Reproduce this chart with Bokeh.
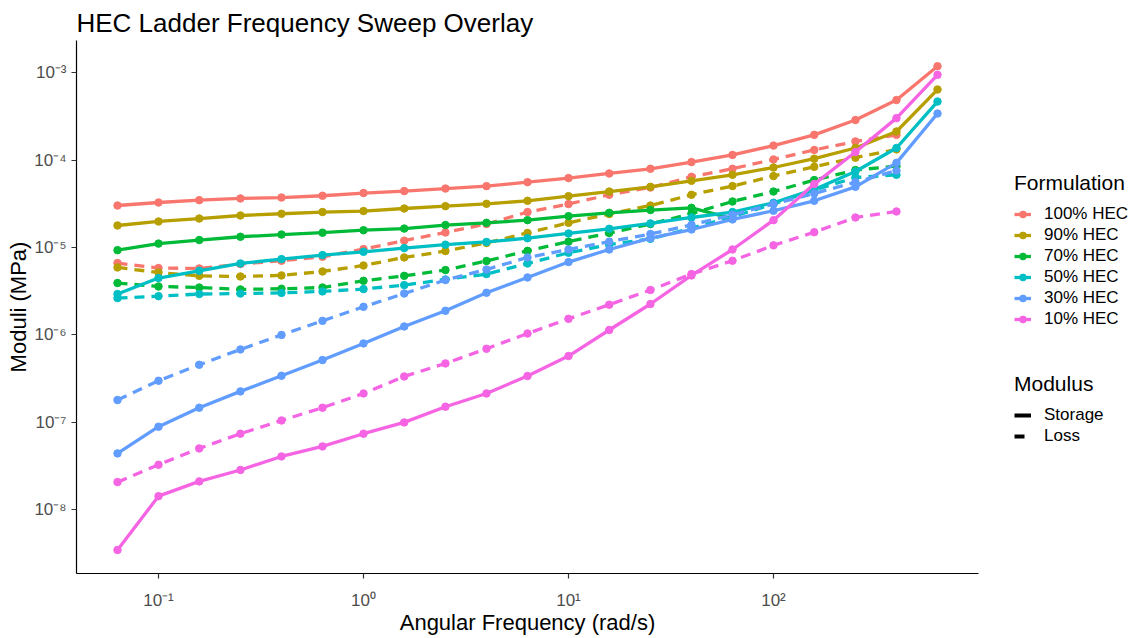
from bokeh.plotting import figure
from bokeh.layouts import row
from bokeh.models import Legend, LegendItem, FixedTicker
from bokeh.embed import file_html
from bokeh.resources import INLINE

# ---------------- data ----------------
freq = [0.0631, 0.1, 0.158, 0.251, 0.398, 0.631, 1.0, 1.58, 2.51, 3.98, 6.31,
        10.0, 15.8, 25.1, 39.8, 63.1, 100.0, 158.0, 251.0, 398.0, 631.0]

formulations = ["100% HEC", "90% HEC", "70% HEC", "50% HEC", "30% HEC", "10% HEC"]
colors = ["#F8766D", "#B79F00", "#00BA38", "#00BFC4", "#619CFF", "#F564E3"]

hec100_storage = [3.03e-5, 3.28e-5, 3.49e-5, 3.65e-5, 3.74e-5, 3.92e-5, 4.21e-5, 4.43e-5, 4.74e-5, 5.05e-5,
                  5.61e-5, 6.24e-5, 7.05e-5, 7.98e-5, 9.52e-5, 1.15e-4, 1.47e-4, 1.95e-4, 2.88e-4, 4.88e-4, 1.19e-3]
hec100_loss = [6.65e-6, 5.83e-6, 5.77e-6, 6.48e-6, 7.07e-6, 7.85e-6, 9.62e-6, 1.20e-5, 1.49e-5, 1.86e-5,
               2.55e-5, 3.15e-5, 4.02e-5, 4.87e-5, 6.46e-5, 7.98e-5, 1.02e-4, 1.31e-4, 1.64e-4, 1.95e-4]

hec90_storage = [1.79e-5, 1.99e-5, 2.15e-5, 2.33e-5, 2.44e-5, 2.55e-5, 2.62e-5, 2.80e-5, 2.98e-5, 3.17e-5,
                 3.43e-5, 3.88e-5, 4.38e-5, 4.96e-5, 5.81e-5, 6.81e-5, 8.25e-5, 1.04e-4, 1.38e-4, 2.13e-4, 6.44e-4]
hec90_loss = [5.92e-6, 5.19e-6, 4.75e-6, 4.67e-6, 4.80e-6, 5.33e-6, 6.24e-6, 7.71e-6, 9.12e-6, 1.13e-5,
              1.47e-5, 1.92e-5, 2.42e-5, 3.03e-5, 4.02e-5, 5.06e-5, 6.58e-5, 8.40e-5, 1.07e-4, 1.33e-4]

hec70_storage = [9.35e-6, 1.11e-5, 1.22e-5, 1.33e-5, 1.41e-5, 1.48e-5, 1.58e-5, 1.65e-5, 1.81e-5, 1.92e-5,
                 2.06e-5, 2.29e-5, 2.50e-5, 2.69e-5, 2.85e-5, 2.14e-5]
hec70_loss = [3.93e-6, 3.59e-6, 3.49e-6, 3.32e-6, 3.38e-6, 3.49e-6, 4.17e-6, 4.75e-6, 5.53e-6, 7.02e-6,
              9.18e-6, 1.17e-5, 1.47e-5, 1.86e-5, 2.45e-5, 3.37e-5, 4.38e-5, 5.92e-5, 7.71e-5, 8.57e-5]

hec50_storage = [2.94e-6, 4.48e-6, 5.43e-6, 6.58e-6, 7.38e-6, 8.20e-6, 8.95e-6, 9.87e-6, 1.08e-5, 1.16e-5,
                 1.28e-5, 1.45e-5, 1.64e-5, 1.89e-5, 2.21e-5, 2.55e-5, 3.26e-5, 4.63e-5, 7.43e-5, 1.38e-4, 4.69e-4]
hec50_loss = [2.64e-6, 2.78e-6, 2.94e-6, 2.98e-6, 3.03e-6, 3.15e-6, 3.35e-6, 3.72e-6, 4.32e-6, 4.97e-6,
              6.58e-6, 8.72e-6, 1.08e-5, 1.26e-5, 1.67e-5, 2.25e-5, 3.15e-5, 4.55e-5, 6.34e-5, 6.81e-5]

hec30_storage = [4.41e-8, 8.91e-8, 1.47e-7, 2.26e-7, 3.41e-7, 5.16e-7, 8.00e-7, 1.25e-6, 1.89e-6, 3.04e-6,
                 4.55e-6, 6.83e-6, 9.51e-6, 1.28e-5, 1.61e-5, 2.10e-5, 2.64e-5, 3.43e-5, 4.96e-5, 9.33e-5, 3.42e-4]
hec30_loss = [1.80e-7, 2.99e-7, 4.56e-7, 6.83e-7, 1.00e-6, 1.45e-6, 2.10e-6, 2.98e-6, 4.25e-6, 5.61e-6,
              7.71e-6, 9.51e-6, 1.17e-5, 1.43e-5, 1.82e-5, 2.37e-5, 3.15e-5, 4.16e-5, 5.60e-5, 7.60e-5]

hec10_storage = [3.46e-9, 1.43e-8, 2.11e-8, 2.85e-8, 4.07e-8, 5.30e-8, 7.41e-8, 9.98e-8, 1.51e-7, 2.14e-7,
                 3.39e-7, 5.74e-7, 1.14e-6, 2.26e-6, 4.80e-6, 9.51e-6, 2.06e-5, 5.33e-5, 1.24e-4, 3.03e-4, 9.48e-4]
hec10_loss = [2.07e-8, 3.27e-8, 5.03e-8, 7.41e-8, 1.05e-7, 1.47e-7, 2.14e-7, 3.35e-7, 4.72e-7, 6.95e-7,
              1.04e-6, 1.53e-6, 2.22e-6, 3.27e-6, 4.98e-6, 7.07e-6, 1.06e-5, 1.50e-5, 2.21e-5, 2.59e-5]

storage_series = [hec100_storage, hec90_storage, hec70_storage, hec50_storage, hec30_storage, hec10_storage]
loss_series = [hec100_loss, hec90_loss, hec70_loss, hec50_loss, hec30_loss, hec10_loss]

x_tick_values = [0.1, 1.0, 10.0, 100.0]
x_tick_labels = ["10\u207b\u00b9", "10\u2070", "10\u00b9", "10\u00b2"]
y_tick_values = [1e-8, 1e-7, 1e-6, 1e-5, 1e-4, 1e-3]
y_tick_labels = ["10\u207b\u2078", "10\u207b\u2077", "10\u207b\u2076", "10\u207b\u2075", "10\u207b\u2074", "10\u207b\u00b3"]

modulus_labels = ["Storage", "Loss"]

# ---------------- main figure ----------------
FONT = "Liberation Sans"
p = figure(width=990, height=638, x_axis_type="log", y_axis_type="log",
           x_range=(10 ** -1.4, 10 ** 3.0), y_range=(10 ** -8.73, 10 ** -2.63),
           output_backend="svg", toolbar_location=None,
           min_border_left=76, min_border_right=12, min_border_top=40, min_border_bottom=65,
           title="HEC Ladder Frequency Sweep Overlay")

p.title.text_font = FONT
p.title.text_font_size = "26px"
p.title.text_font_style = "normal"
p.title.text_color = "black"
p.title.vertical_align = "top"
p.title.text_baseline = "top"
p.title.standoff = 2

p.xgrid.grid_line_color = None
p.ygrid.grid_line_color = None
p.outline_line_color = None
p.background_fill_color = "white"

p.xaxis.ticker = FixedTicker(ticks=x_tick_values)
p.yaxis.ticker = FixedTicker(ticks=y_tick_values)
p.xaxis.major_label_overrides = dict(zip(x_tick_values, x_tick_labels))
p.yaxis.major_label_overrides = dict(zip(y_tick_values, y_tick_labels))

for ax in (p.xaxis, p.yaxis):
    ax.axis_line_color = "black"
    ax.axis_line_width = 1.2
    ax.major_tick_line_color = "#333333"
    ax.major_tick_line_width = 1.2
    ax.major_tick_out = 5
    ax.major_tick_in = 0
    ax.minor_tick_line_color = None
    ax.major_label_text_color = "#4D4D4D"
    ax.major_label_text_font = FONT
    ax.major_label_text_font_size = "17px"
    ax.axis_label_text_font = FONT
    ax.axis_label_text_font_size = "22px"
    ax.axis_label_text_font_style = "normal"
    ax.axis_label_text_color = "black"

p.xaxis.axis_label = "Angular Frequency (rad/s)"
p.yaxis.axis_label = "Moduli (MPa)"
p.xaxis.major_label_standoff = 12
p.yaxis.major_label_standoff = 5
p.xaxis.axis_label_standoff = -3
p.yaxis.axis_label_standoff = 0

LW = 3.3
DASH = "10 7"
for name, col, st, lo in zip(formulations, colors, storage_series, loss_series):
    p.line(freq[:len(st)], st, line_color=col, line_width=LW)
    p.line(freq[:len(lo)], lo, line_color=col, line_width=LW, line_dash=DASH)
    p.scatter(freq[:len(st)], st, marker="circle", size=7.5, color=col)
    p.scatter(freq[:len(lo)], lo, marker="circle", size=7.5, color=col)

# ---------------- legend panel ----------------
lg = figure(width=151, height=638, x_range=(0, 1), y_range=(0, 1),
            output_backend="svg", toolbar_location=None,
            x_axis_location=None, y_axis_location=None,
            min_border_left=0, min_border_right=0, min_border_top=0, min_border_bottom=0)
lg.xgrid.grid_line_color = None
lg.ygrid.grid_line_color = None
lg.outline_line_color = None

# legend-only renderers: their data lie outside this panel's ranges
off = [5.0, 6.0]
form_items = []
for name, col in zip(formulations, colors):
    r_l = lg.line(off, off, line_color=col, line_width=LW)
    r_p = lg.scatter(off, off, marker="circle", size=7.5, color=col)
    form_items.append(LegendItem(label=name, renderers=[r_l, r_p]))

r_storage = lg.line(off, off, line_color="black", line_width=4)
r_loss = lg.line(off, off, line_color="black", line_width=4, line_dash="10 8")
mod_items = [LegendItem(label=modulus_labels[0], renderers=[r_storage]),
             LegendItem(label=modulus_labels[1], renderers=[r_loss])]


def style_legend(leg):
    leg.title_text_font = FONT
    leg.title_text_font_size = "21px"
    leg.title_text_font_style = "normal"
    leg.title_text_color = "black"
    leg.label_text_font = FONT
    leg.label_text_font_size = "17px"
    leg.label_text_color = "black"
    leg.glyph_width = 17
    leg.glyph_height = 18
    leg.label_height = 18
    leg.spacing = 1
    leg.label_standoff = 13
    leg.padding = 0
    leg.margin = 0
    leg.border_line_color = None
    leg.background_fill_alpha = 0
    leg.title_standoff = 9


leg1 = Legend(items=form_items, title="Formulation", location=(24, 244))
leg2 = Legend(items=mod_items, title="Modulus", location=(24, 127))
style_legend(leg1)
style_legend(leg2)
lg.add_layout(leg1)
lg.add_layout(leg2)

layout = row(p, lg)
open("out.html", "w").write(file_html(layout, INLINE))
